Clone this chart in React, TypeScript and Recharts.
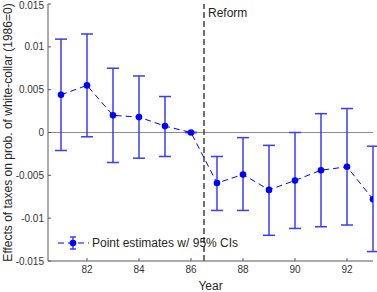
import React from "react";
import {
  ComposedChart,
  Line,
  XAxis,
  YAxis,
  ErrorBar,
  ReferenceLine,
  Legend,
} from "recharts";

const years = [81, 82, 83, 84, 85, 86, 87, 88, 89, 90, 91, 92, 93];
const estimates = [
  0.0044, 0.0055, 0.002, 0.0018, 0.00075, 0, -0.0059, -0.0049, -0.0067,
  -0.0056, -0.0044, -0.004, -0.0078,
];
const lower = [
  -0.0021, -0.0005, -0.0035, -0.003, -0.0028, 0, -0.0091, -0.0091, -0.012,
  -0.0112, -0.011, -0.0108, -0.0139,
];
const upper = [
  0.0109, 0.0115, 0.0075, 0.0066, 0.0042, 0, -0.0028, -0.0006, -0.0015, 0,
  0.0022, 0.0028, -0.0016,
];
const xTicks = [82, 84, 86, 88, 90, 92];
const yTicks = [-0.015, -0.01, -0.005, 0, 0.005, 0.01, 0.015];
const reformYear = 86.5;

const data = years.map((year, i) => ({
  year,
  est: estimates[i],
  ci: [estimates[i] - lower[i], upper[i] - estimates[i]],
}));

const BLUE = "#0000ff";
const BAR = "#3b3bff";
const AXIS = "#5a5a5a";
const FONT = "'Liberation Sans', Arial, sans-serif";

function LegendBox() {
  return (
    <svg width={200} height={16} style={{ display: "block" }}>
      <line x1={2} y1={8} x2={33} y2={8} stroke={BLUE} strokeDasharray="6 4" />
      <line x1={17} y1={2} x2={17} y2={14} stroke={BAR} strokeWidth={1.5} />
      <line x1={14} y1={2} x2={20} y2={2} stroke={BAR} strokeWidth={1.5} />
      <line x1={14} y1={14} x2={20} y2={14} stroke={BAR} strokeWidth={1.5} />
      <circle cx={17} cy={8} r={3.3} fill={BLUE} />
      <text x={36} y={12.2} fontSize={12} fill="#262626" fontFamily={FONT}>
        Point estimates w/ 95% CIs
      </text>
    </svg>
  );
}

export default function App() {
  return (
    <div style={{ position: "absolute", left: 0, top: 0 }}>
      <ComposedChart
        width={377}
        height={292}
        data={data}
        margin={{ top: 4, right: 4, bottom: 0, left: 0 }}
        style={{ fontFamily: FONT }}
      >
        <XAxis
          dataKey="year"
          type="number"
          domain={[80.5, 93]}
          ticks={xTicks}
          allowDataOverflow
          height={31}
          stroke={AXIS}
          tickSize={-3}
          tickMargin={8}
          tick={{ fontSize: 10, fill: "#333" }}
          label={{
            value: "Year",
            position: "insideBottom",
            offset: 2,
            fontSize: 12,
            fill: "#262626",
          }}
        />
        <YAxis
          type="number"
          domain={[-0.015, 0.015]}
          ticks={yTicks}
          width={48}
          stroke={AXIS}
          tickSize={-3}
          tickMargin={7}
          tick={{ fontSize: 10, fill: "#333" }}
          tickFormatter={(v: number) => String(v)}
          label={{
            value: "Effects of taxes on prob. of white-collar (1986=0)",
            angle: -90,
            position: "insideLeft",
            offset: 8,
            fontSize: 12,
            fill: "#262626",
            style: { textAnchor: "middle" },
          }}
        />
        <ReferenceLine y={0} stroke="#8c8c8c" strokeWidth={1} />
        <ReferenceLine
          x={reformYear}
          stroke="#404040"
          strokeWidth={1.5}
          strokeDasharray="6 3"
          label={{
            value: "Reform",
            position: "insideTopLeft",
            offset: 4,
            fontSize: 12,
            fill: "#262626",
          }}
        />
        <Legend
          layout="horizontal"
          verticalAlign="middle"
          align="center"
          content={() => <LegendBox />}
          wrapperStyle={{ left: 56, top: 235, width: 200 }}
        />
        <Line
          dataKey="est"
          stroke={BLUE}
          strokeWidth={1}
          strokeDasharray="6 4"
          dot={{ r: 3.3, fill: BLUE, stroke: BLUE, strokeWidth: 0 }}
          activeDot={false}
          isAnimationActive={false}
        >
          <ErrorBar
            dataKey="ci"
            width={6}
            stroke={BAR}
            strokeWidth={1.5}
            isAnimationActive={false}
          />
        </Line>
      </ComposedChart>
    </div>
  );
}
